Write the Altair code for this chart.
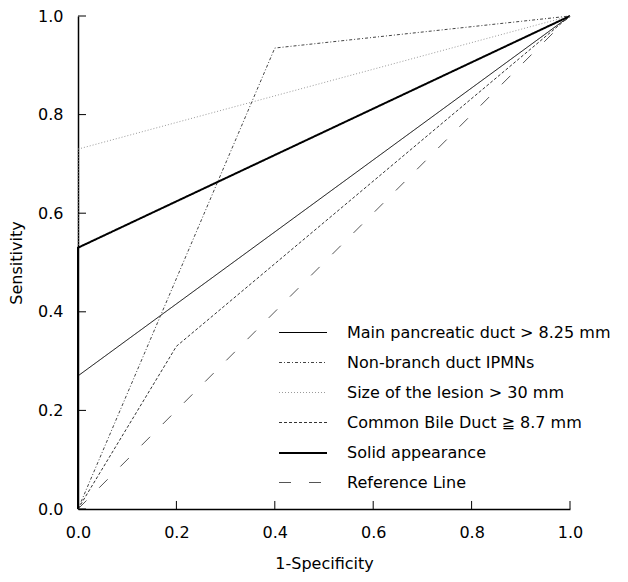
import altair as alt
import pandas as pd

series_names = [
    "Main pancreatic duct > 8.25 mm",
    "Non-branch duct IPMNs",
    "Size of the lesion > 30 mm",
    "Common Bile Duct \u2267 8.7 mm",
    "Solid appearance",
    "Reference Line",
]
fpr = [
    [0.0, 0.0, 1.0],
    [0.0, 0.4, 1.0],
    [0.0, 0.0, 1.0],
    [0.0, 0.2, 1.0],
    [0.0, 0.0, 1.0],
    [0.0, 1.0],
]
tpr = [
    [0.0, 0.27, 1.0],
    [0.0, 0.935, 1.0],
    [0.0, 0.73, 1.0],
    [0.0, 0.33, 1.0],
    [0.0, 0.53, 1.0],
    [0.0, 1.0],
]
tick_values = [0.0, 0.2, 0.4, 0.6, 0.8, 1.0]

colors = ["#000000", "#444444", "#9a9a9a", "#333333", "#000000", "#555555"]
dashes = [[1, 0], [3, 2, 1, 2], [1, 2], [3, 2], [1, 0], [12, 18]]
widths = [1, 1, 1, 1, 2, 1]

rows = []
for name, xs, ys in zip(series_names, fpr, tpr):
    for i, (a, b) in enumerate(zip(xs, ys)):
        rows.append({"series": name, "x": a, "y": b, "ord": i})
df = pd.DataFrame(rows)

W = 492
H = 493
tick_len = 8

FONT = "DejaVu Sans"

legend = alt.Legend(
    title=None,
    orient="none",
    legendX=212,
    legendY=304,
    symbolType="M-2,0H2",
    symbolSize=24 * 24,
    labelFontSize=16,
    labelFont=FONT,
    labelColor="#000000",
    labelOffset=31,
    rowPadding=9,
    labelLimit=400,
)

xscale = alt.Scale(domain=[0, 1], nice=False, zero=False)
yscale = alt.Scale(domain=[0, 1], nice=False, zero=False)

lines = alt.Chart(df).mark_line(clip=False).encode(
    x=alt.X("x:Q", scale=xscale, title="1-Specificity",
            axis=alt.Axis(values=tick_values, format=".1f", tickSize=0, labelFlush=False,
                          labelPadding=15, titlePadding=15, grid=False)),
    y=alt.Y("y:Q", scale=yscale, title="Sensitivity",
            axis=alt.Axis(values=tick_values, format=".1f", tickSize=0, labelFlush=False,
                          labelPadding=15, titlePadding=13, grid=False)),
    color=alt.Color("series:N", scale=alt.Scale(domain=series_names, range=colors), legend=legend),
    strokeDash=alt.StrokeDash("series:N", scale=alt.Scale(domain=series_names, range=dashes), legend=legend),
    strokeWidth=alt.StrokeWidth("series:N", scale=alt.Scale(type="ordinal", domain=series_names, range=widths), legend=legend),
    order="ord:Q",
)

ticks_df = pd.DataFrame({"v": tick_values, "zero": [0.0] * len(tick_values),
                         "len": [tick_len / W] * len(tick_values)})

xticks = alt.Chart(ticks_df).mark_rule(color="black", strokeWidth=1).encode(
    x=alt.X("v:Q", scale=xscale),
    y=alt.Y("zero:Q", scale=yscale),
    y2="len:Q",
)
yticks = alt.Chart(ticks_df).mark_rule(color="black", strokeWidth=1).encode(
    y=alt.Y("v:Q", scale=yscale),
    x=alt.X("zero:Q", scale=xscale),
    x2="len:Q",
)

chart = alt.layer(lines, xticks, yticks).properties(
    width=W, height=H,
    padding={"left": 0, "top": 0, "right": 5, "bottom": 5},
    background="white",
).configure_view(stroke=None).configure_axis(
    domainColor="#000000",
    domainWidth=1.5,
    labelFont=FONT,
    labelFontSize=16,
    labelColor="#000000",
    titleFont=FONT,
    titleFontSize=16,
    titleFontWeight="normal",
    titleColor="#000000",
)

chart.save("out.html", embed_options={"renderer": "svg", "actions": False})
